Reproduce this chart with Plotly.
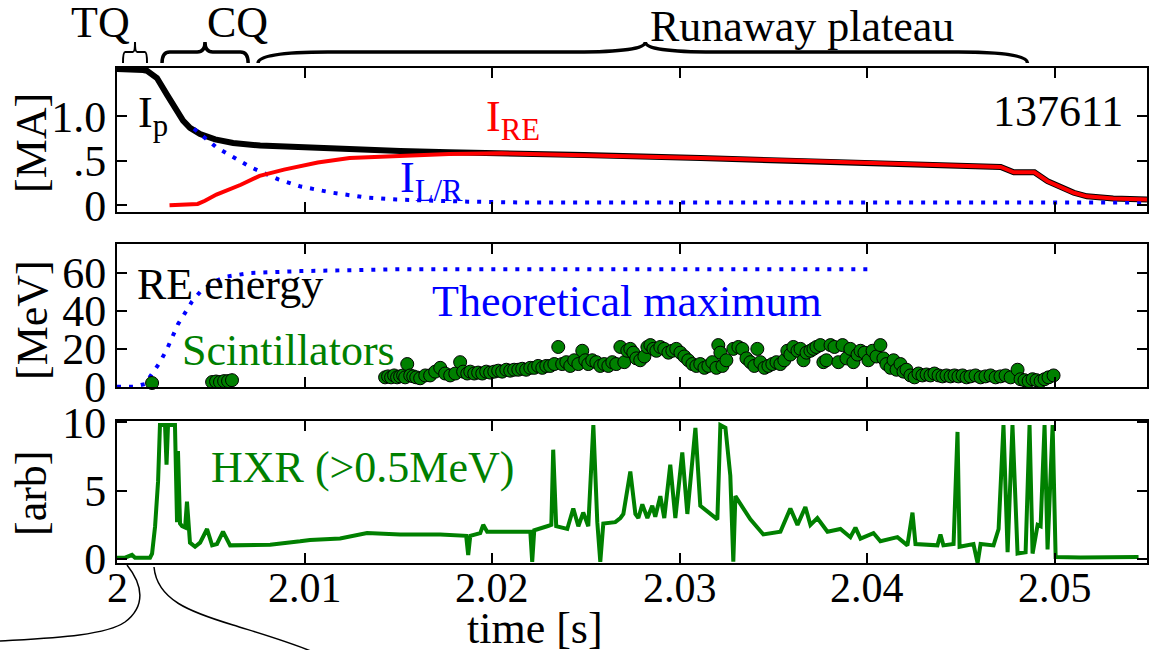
import plotly.graph_objects as go

W, H = 1153, 650
FONT = "Liberation Serif"

# ---------------- data ----------------
ip_t = [2.0000, 2.0007, 2.0014, 2.0016, 2.00213, 2.00267, 2.00309, 2.00352, 2.00389, 2.00443,
        2.00523, 2.00619, 2.00763, 2.0098, 2.0151, 2.0177, 2.0205, 2.0249, 2.0311, 2.0364,
        2.0443, 2.0471, 2.0478, 2.0489, 2.0496, 2.0510, 2.0517, 2.0531, 2.0549]
ip_ma = [1.53, 1.53, 1.52, 1.51, 1.43, 1.24, 1.08, 0.95, 0.87, 0.80,
         0.74, 0.70, 0.67, 0.65, 0.61, 0.595, 0.585, 0.565, 0.53, 0.50,
         0.45, 0.43, 0.37, 0.37, 0.27, 0.14, 0.10, 0.075, 0.064]

ire_t = [2.0028, 2.0043, 2.00469, 2.0053, 2.0066, 2.0076, 2.0089, 2.0107, 2.0124, 2.0151, 2.0177,
         2.0205, 2.0249, 2.0311, 2.0364, 2.0443, 2.0471, 2.0478, 2.0489, 2.0496, 2.0510,
         2.0517, 2.0531, 2.0549]
ire_ma = [0.0, 0.015, 0.05, 0.12, 0.23, 0.33, 0.40, 0.48, 0.53, 0.555, 0.575,
          0.583, 0.565, 0.53, 0.50, 0.45, 0.43, 0.37, 0.37, 0.27, 0.14,
          0.10, 0.075, 0.064]

ilr_t = [2.0041, 2.0053, 2.0071, 2.0086, 2.0098, 2.0115, 2.0133, 2.0149, 2.0187, 2.0220, 2.0549]
ilr_ma = [0.86, 0.65, 0.43, 0.29, 0.21, 0.14, 0.086, 0.064, 0.04, 0.03, 0.03]

emax_t = [2.0000, 2.00085, 2.0015, 2.00187, 2.00229, 2.00267, 2.00293, 2.00325, 2.00363,
          2.00400, 2.00443, 2.00512, 2.00576, 2.00640, 2.00709, 2.00976, 2.01509, 2.0400]
emax_mev = [0, 0, 1.5, 7, 13, 20, 26, 33, 39, 45, 50, 55, 58, 59, 60, 61, 62, 62]

scint_t = [2.00187, 2.00507, 2.00528, 2.00549, 2.00571, 2.00592, 2.00613,
           2.01429, 2.01445, 2.01461, 2.01477, 2.01493, 2.01509, 2.01525, 2.01536, 2.01547, 2.01563,
           2.01579, 2.01595, 2.01616, 2.01643, 2.01669, 2.01696, 2.01723, 2.01749, 2.01776, 2.01803,
           2.01829, 2.01845, 2.01867, 2.01883, 2.01904, 2.01925, 2.01947, 2.01968, 2.01989, 2.02011,
           2.02032, 2.02053, 2.02075, 2.02096, 2.02117, 2.02139, 2.02160, 2.02181, 2.02203, 2.02224,
           2.02245, 2.02267, 2.02288, 2.02309, 2.02331, 2.02352, 2.02373, 2.02395, 2.02416, 2.02437,
           2.02459, 2.02480, 2.02496, 2.02512, 2.02533, 2.02555, 2.02576, 2.02597, 2.02619, 2.02640,
           2.02661, 2.02683, 2.02704, 2.02720, 2.02736, 2.02752, 2.02768, 2.02789, 2.02811, 2.02827,
           2.02843, 2.02859, 2.02875, 2.02896, 2.02917, 2.02939, 2.02960, 2.02981, 2.03003, 2.03024,
           2.03045, 2.03067, 2.03088, 2.03109, 2.03131, 2.03152, 2.03173, 2.03195, 2.03205, 2.03216,
           2.03227, 2.03248, 2.03285, 2.03312, 2.03333, 2.03355, 2.03376, 2.03397, 2.03413, 2.03429,
           2.03451, 2.03472, 2.03493, 2.03515, 2.03536, 2.03557, 2.03573, 2.03589, 2.03605, 2.03627,
           2.03643, 2.03659, 2.03675, 2.03696, 2.03712, 2.03728, 2.03749, 2.03765, 2.03781, 2.03803,
           2.03824, 2.03845, 2.03867, 2.03888, 2.03909, 2.03925, 2.03947, 2.03963, 2.03984, 2.04005,
           2.04027, 2.04048, 2.04069, 2.04085, 2.04101, 2.04123, 2.04139, 2.04155, 2.04176, 2.04192,
           2.04208, 2.04229, 2.04251, 2.04272, 2.04293, 2.04315, 2.04336, 2.04357, 2.04379, 2.04400,
           2.04421, 2.04443, 2.04464, 2.04485, 2.04507, 2.04528, 2.04549, 2.04576, 2.04603, 2.04629,
           2.04656, 2.04683, 2.04709, 2.04736, 2.04763, 2.04800, 2.04816, 2.04837, 2.04859, 2.04880,
           2.04901, 2.04923, 2.04944, 2.04965, 2.04992]
scint_mev = [2, 2.5, 2.8, 2.5, 3, 3, 3.5,
             5, 5.5, 5, 6, 5, 5.5, 6, 5, 12, 6,
             5.5, 5, 4.5, 6, 6, 8, 10, 7, 6, 7,
             13, 8, 7, 8, 7, 7.5, 7, 8, 7.5, 8,
             8.5, 8, 9, 8.5, 9, 9, 9.5, 9, 10, 10,
             11, 10, 11, 11, 12, 21, 12, 13, 11, 14,
             12, 19, 14, 12, 14, 13, 11, 12, 11, 13,
             12, 21, 13, 19, 20, 18, 15, 14, 16, 21,
             22, 20, 19, 21, 20, 18, 19, 20, 18, 16,
             14, 12, 11, 12, 10, 11, 13, 10, 22, 18,
             11, 14, 20, 21, 20, 15, 13, 11, 20, 13,
             10, 11, 12, 13, 12, 14, 19, 17, 21, 19,
             20, 14, 18, 19, 20, 21, 22, 13, 14, 22,
             21, 13, 22, 15, 20, 13, 17, 19, 18, 14,
             19, 16, 22, 15, 12, 10, 14, 9, 12, 8,
             9, 6, 5, 7, 6, 6.5, 6, 7, 6, 5.5,
             6, 5.5, 6, 5.5, 6, 5, 5.5, 6, 5, 5.5,
             6, 5, 5.5, 6, 5, 9, 4, 3.5, 3, 4,
             3.5, 3, 4, 5, 6]

hxr_t = [2.00000, 2.00043, 2.00080, 2.00096, 2.00176, 2.00187, 2.00203, 2.00219, 2.00229, 2.00256,
         2.00264, 2.00272, 2.00309, 2.00320, 2.00325, 2.00336, 2.00347, 2.00363, 2.00373, 2.00389,
         2.00416, 2.00443, 2.00480, 2.00507, 2.00533, 2.00565, 2.00603, 2.00709, 2.00816, 2.00976,
         2.01029, 2.01189, 2.01333, 2.01509, 2.01723, 2.01861, 2.01872, 2.01883, 2.01936, 2.01952,
         2.01973, 2.02096, 2.02203, 2.02213, 2.02224, 2.02293, 2.02315, 2.02325, 2.02341, 2.02400,
         2.02432, 2.02459, 2.02485, 2.02512, 2.02539, 2.02560, 2.02576, 2.02592, 2.02656, 2.02683,
         2.02699, 2.02736, 2.02763, 2.02779, 2.02800, 2.02827, 2.02853, 2.02869, 2.02896, 2.02917,
         2.02949, 2.02976, 2.03013, 2.03040, 2.03083, 2.03109, 2.03200, 2.03216, 2.03243, 2.03269,
         2.03285, 2.03296, 2.03376, 2.03445, 2.03536, 2.03589, 2.03627, 2.03669, 2.03696, 2.03733,
         2.03787, 2.03856, 2.03909, 2.03936, 2.03963, 2.04032, 2.04069, 2.04160, 2.04213, 2.04240,
         2.04256, 2.04373, 2.04389, 2.04405, 2.04459, 2.04480, 2.04491, 2.04565, 2.04587, 2.04603,
         2.04672, 2.04699, 2.04725, 2.04747, 2.04773, 2.04800, 2.04843, 2.04864, 2.04880, 2.04907,
         2.04923, 2.04944, 2.04960, 2.04987, 2.05003, 2.05136, 2.05243, 2.05445]
hxr_arb = [0.1, 0.1, 0.3, 0.1, 0.1, 0.4, 2.4, 5.7, 9.8, 9.8,
           6.9, 9.8, 9.8, 2.7, 7.9, 2.6, 2.4, 2.3, 4.2, 1.2,
           0.9, 1.2, 2.2, 1.0, 1.1, 2.0, 1.0, 1.0, 1.05, 1.3,
           1.4, 1.5, 1.9, 1.8, 1.8, 1.7, 0.3, 1.7, 1.9, 2.5,
           2.0, 2.0, 2.0, -0.2, 2.1, 2.4, 2.5, 8.0, 2.4, 2.2,
           3.7, 2.4, 3.4, 2.4, 9.8, 2.7, -0.2, 2.6, 2.7, 3.0,
           3.3, 6.4, 3.3, 3.0, 4.0, 3.0, 3.9, 3.1, 4.6, 3.0,
           6.9, 3.0, 7.8, 3.3, 9.6, 3.9, 2.9, 9.8, 9.6, 6.1,
           -0.2, 4.6, 2.9, 1.8, 2.0, 3.7, 2.5, 3.8, 2.5, 3.0,
           2.0, 2.2, 1.6, 2.3, 1.5, 1.9, 1.3, 1.6, 1.0, 3.4,
           1.1, 1.0, 1.8, 1.0, 1.1, 9.3, 0.9, 1.1, -0.3, 1.1,
           1.0, 2.2, 9.8, 0.5, 9.8, 0.4, 0.5, 9.8, 0.4, 2.5,
           2.4, 9.8, 0.7, 9.8, 0.15, 0.12, 0.15, 0.15]

x_ticks = [2.0, 2.01, 2.02, 2.03, 2.04, 2.05]
x_ticklabels = ["2", "2.01", "2.02", "2.03", "2.04", "2.05"]
ma_ticks = [0, 0.5, 1.0]
ma_ticklabels = ["0", ".5", "1.0"]
mev_ticks = [0, 20, 40, 60]
arb_ticks = [0, 5, 10]

# braces (time spans)
brace_tq = (2.00032, 2.00096, 2.0016)
brace_cq = (2.0024, 2.00469, 2.00699)
brace_ra = (2.00752, 2.02816, 2.04853)

# ---------------- layout helpers ----------------
def fx(p):
    return p / W

def fy(p):
    return 1 - p / H

BLUE = "#0000ff"
GREEN = "#008000"
RED = "#ff0000"

fig = go.Figure()

# top panel
fig.add_trace(go.Scatter(x=ip_t, y=ip_ma, mode="lines", line=dict(color="black", width=6),
                         xaxis="x", yaxis="y"))
fig.add_trace(go.Scatter(x=ilr_t, y=ilr_ma, mode="lines",
                         line=dict(color=BLUE, width=4, dash="4px,8px"), xaxis="x", yaxis="y"))
fig.add_trace(go.Scatter(x=ire_t, y=ire_ma, mode="lines", line=dict(color=RED, width=4),
                         xaxis="x", yaxis="y"))

# middle panel
fig.add_trace(go.Scatter(x=emax_t, y=emax_mev, mode="lines",
                         line=dict(color=BLUE, width=4, dash="4px,8px"), xaxis="x2", yaxis="y2"))
fig.add_trace(go.Scatter(x=scint_t, y=scint_mev, mode="markers", cliponaxis=False,
                         marker=dict(size=13, color=GREEN, line=dict(color="black", width=1)),
                         xaxis="x2", yaxis="y2"))

# bottom panel
fig.add_trace(go.Scatter(x=hxr_t, y=hxr_arb, mode="lines", line=dict(color=GREEN, width=4),
                         xaxis="x3", yaxis="y3"))

xdom = [fx(117), fx(1147)]
common = dict(showline=True, linecolor="black", linewidth=2, mirror="allticks",
              ticks="inside", ticklen=10, tickwidth=1.5, tickcolor="black",
              showgrid=False, zeroline=False, automargin=False,
              tickfont=dict(family=FONT, size=44, color="black"))

xr = [2.0, 2.0549]
fig.update_layout(
    width=W, height=H, margin=dict(l=0, r=0, t=0, b=0, autoexpand=False),
    paper_bgcolor="white", plot_bgcolor="white", showlegend=False,
    xaxis=dict(domain=xdom, range=xr, anchor="y", tickvals=x_ticks,
               showticklabels=False, **common),
    yaxis=dict(domain=[fy(212), fy(68)], range=[-0.076, 1.542], anchor="x",
               tickvals=ma_ticks, ticktext=ma_ticklabels, **common),
    xaxis2=dict(domain=xdom, range=xr, anchor="y2", tickvals=x_ticks,
                showticklabels=False, **common),
    yaxis2=dict(domain=[fy(387), fy(244)], range=[-0.1, 75.3], anchor="x2",
                tickvals=mev_ticks, **common),
    xaxis3=dict(domain=xdom, range=xr, anchor="y3", tickvals=x_ticks,
                showticklabels=False, **common),
    yaxis3=dict(domain=[fy(563), fy(421)], range=[-0.29, 10.1], anchor="x3",
                tickvals=arb_ticks, **common),
)

# x tick labels of the bottom panel, placed at the tick values of xaxis3
for v, lab in zip(x_ticks, x_ticklabels):
    fig.add_annotation(text=lab, x=v, xref="x3", y=fy(588), yref="paper",
                       showarrow=False, xanchor="center", yanchor="middle",
                       font=dict(family=FONT, size=42, color="black"))

def ann(text, x, y, color="black", size=44, xanchor="center", angle=0):
    fig.add_annotation(text=text, x=fx(x), y=fy(y), xref="paper", yref="paper",
                       showarrow=False, xanchor=xanchor, yanchor="middle", textangle=angle,
                       font=dict(family=FONT, size=size, color=color))

ann("TQ", 100, 22)
ann("CQ", 237, 22)
ann("Runaway plateau", 802, 26)
ann("137611", 1058, 111)
ann("I<sub>p</sub>", 136, 116, xanchor="left")
ann("I<sub>RE</sub>", 484, 119, color=RED, xanchor="left")
ann("I<sub>L/R</sub>", 398, 180, color=BLUE, xanchor="left")
ann("RE energy", 230, 284)
ann("Theoretical maximum", 627, 301, color=BLUE)
ann("Scintillators", 288, 350, color=GREEN)
ann("HXR (&gt;0.5MeV)", 362, 467, color=GREEN)
ann("time [s]", 535, 628)
ann("[MA]", 32, 143, angle=-90)
ann("[MeV]", 32, 320, angle=-90)
ann("[arb]", 32, 493, angle=-90)

# braces above the top panel
def brace(span, width):
    x0, xm, x1 = span
    yb, yl, yt = fy(63), fy(52), fy(42)
    d0 = (xm - x0) * 0.18
    d1 = (x1 - xm) * 0.18
    path = (f"M {x0},{yb} Q {x0},{yl} {x0 + d0},{yl} L {xm - d0},{yl} "
            f"Q {xm},{yl} {xm},{yt} Q {xm},{yl} {xm + d1},{yl} "
            f"L {x1 - d1},{yl} Q {x1},{yl} {x1},{yb}")
    fig.add_shape(type="path", path=path, xref="x", yref="paper",
                  line=dict(color="black", width=width))

brace(brace_tq, 2)
brace(brace_cq, 3.5)
brace(brace_ra, 3.5)

# zoom-indicator curves below the bottom panel
def P(a, b):
    return f"{fx(a):.5f},{fy(b):.5f}"

curve1 = f"M {P(127,565)} C {P(143,585)} {P(146,606)} {P(125,622)} C {P(105,636)} {P(50,638)} {P(0,641)}"
curve2 = f"M {P(154,567)} C {P(157,600)} {P(190,612)} {P(233,625)} C {P(265,635)} {P(300,645)} {P(322,656)}"
for c in (curve1, curve2):
    fig.add_shape(type="path", path=c, xref="paper", yref="paper",
                  line=dict(color="black", width=1.5))

fig.write_html("out.html", config={"displayModeBar": False},
               post_script="document.body.style.margin='0px';document.body.style.overflow='hidden';")
